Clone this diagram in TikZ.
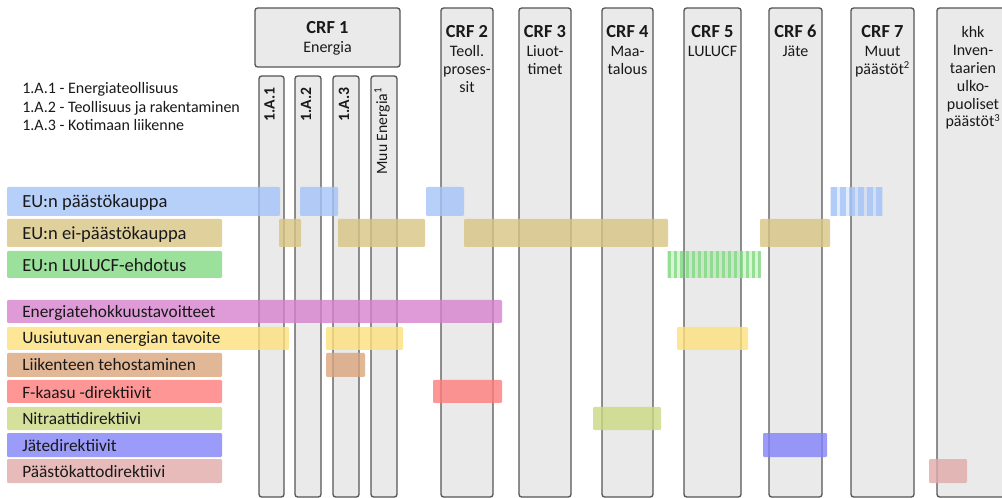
\documentclass[tikz,border=0pt]{standalone}
\usepackage{fontspec}
\setmainfont{Carlito}
\definecolor{colfill}{RGB}{234,234,234}
\definecolor{colline}{RGB}{85,85,85}
\definecolor{txt}{RGB}{25,25,25}
\definecolor{cblue}{RGB}{165,196,249}
\definecolor{ctan}{RGB}{216,196,130}
\definecolor{cgreen}{RGB}{130,218,130}
\definecolor{cpink}{RGB}{214,130,205}
\definecolor{cyellow}{RGB}{253,224,124}
\definecolor{cbrown}{RGB}{218,165,124}
\definecolor{cred}{RGB}{255,124,124}
\definecolor{colive}{RGB}{203,218,130}
\definecolor{cviolet}{RGB}{130,130,249}
\definecolor{crose}{RGB}{226,170,170}
\tikzset{
  colbox/.style={draw=colline, fill=colfill, line width=1pt, rounded corners=2pt},
  bar/.style={fill opacity=0.8, rounded corners=0.8pt},
  head/.style={font=\fontsize{13.8}{16}\selectfont\bfseries, text=txt, inner sep=0pt, anchor=base},
  sub/.style={font=\fontsize{12}{14}\selectfont, text=txt, inner sep=0pt, anchor=base},
  rot/.style={font=\fontsize{11.8}{14}\selectfont, text=txt, inner sep=0pt, rotate=90, anchor=mid east},
  leg/.style={font=\fontsize{12}{14}\selectfont, text=txt, inner sep=0pt, anchor=base west},
  lbl/.style={font=\fontsize{13.9}{16}\selectfont, text=txt, inner sep=0pt, anchor=base west},
  lbs/.style={font=\fontsize{13}{15}\selectfont, text=txt, inner sep=0pt, anchor=base west},
}
\begin{document}
\begin{tikzpicture}[x=0.75pt,y=-0.75pt]
\useasboundingbox (0,0) rectangle (1002,498);
\clip (0,0) rectangle (1002,498);
% columns
\path[colbox] (255,8) rectangle (400,67);
\path[colbox] (259,76) rectangle (284,497);
\path[colbox] (295,76) rectangle (321,497);
\path[colbox] (333,76) rectangle (359,497);
\path[colbox] (371,76) rectangle (397,497);
\path[colbox] (441,8) rectangle (493,497);
\path[colbox] (519,8) rectangle (571,497);
\path[colbox] (602,8) rectangle (653,497);
\path[colbox] (684,8) rectangle (741,497);
\path[colbox] (769,8) rectangle (822,497);
\path[colbox] (851,8) rectangle (914,497);
\path[colbox] (937,8) rectangle (1010,497);
% column texts
\node[head] (h1) at (327.5,34) {CRF 1};
\node[sub] (h1s) at (327.5,53) {Energia};
\node[rot] (a1) at (271.5,87) {\bfseries 1.A.1};
\node[rot] (a2) at (308,87) {\bfseries 1.A.2};
\node[rot] (a3) at (346,87) {\bfseries 1.A.3};
\node[rot] (a4) at (384,87) {Muu Energia\textsuperscript{1}};
\node[head] (h2) at (467,38) {CRF 2};
\node[sub] (h2a) at (467,57) {Teoll.};
\node[sub] (h2b) at (467,74.8) {proses-};
\node[sub] (h2c) at (467,92.6) {sit};
\node[head] (h3) at (545,38) {CRF 3};
\node[sub] (h3a) at (545,57) {Liuot-};
\node[sub] (h3b) at (545,74.8) {timet};
\node[head] (h4) at (627.5,38) {CRF 4};
\node[sub] (h4a) at (627.5,57) {Maa-};
\node[sub] (h4b) at (627.5,74.8) {talous};
\node[head] (h5) at (712.5,38) {CRF 5};
\node[sub] (h5a) at (712.5,57) {LULUCF};
\node[head] (h6) at (795.5,38) {CRF 6};
\node[sub] (h6a) at (795.5,57) {Jäte};
\node[head] (h7) at (882.5,38) {CRF 7};
\node[sub] (h7a) at (882.5,57) {Muut};
\node[sub] (h7b) at (882.5,74.8) {päästöt\textsuperscript{2}};
\node[sub] (k1) at (973,38) {khk};
\node[sub] (k2) at (973,55.8) {Inven-};
\node[sub] (k3) at (973,73.6) {taarien};
\node[sub] (k4) at (973,91.4) {ulko-};
\node[sub] (k5) at (973,109.2) {puoliset};
\node[sub] (k6) at (973,127) {päästöt\textsuperscript{3}};
% legend
\node[leg] (l1) at (22,94) {1.A.1 - Energiateollisuus};
\node[leg] (l2) at (22,112.5) {1.A.2 - Teollisuus ja rakentaminen};
\node[leg] (l3) at (22,131) {1.A.3 - Kotimaan liikenne};
% bars row 1
\path[bar, fill=cblue] (7,187) rectangle (280,216);
\path[bar, fill=cblue] (300,187) rectangle (338,216);
\path[bar, fill=cblue] (426,187) rectangle (464,216);
\path[fill=cblue, fill opacity=0.3] (830,187) rectangle (883,216);
\foreach \i in {0,...,5} {\path[fill=cblue, fill opacity=0.8] (831+9*\i,187) rectangle (836.5+9*\i,216);}
% row 2
\path[bar, fill=ctan] (7,219) rectangle (222,247);
\path[bar, fill=ctan] (279,219) rectangle (301,247);
\path[bar, fill=ctan] (338,219) rectangle (425,247);
\path[bar, fill=ctan] (464,219) rectangle (668,247);
\path[bar, fill=ctan] (760,219) rectangle (830,247);
% row 3
\path[bar, fill=cgreen] (7,251) rectangle (222,278);
\path[fill=cgreen, fill opacity=0.3] (667,251) rectangle (760,278);
\foreach \i in {0,...,15} {\path[fill=cgreen, fill opacity=0.8] (667.5+6*\i,251) rectangle (671+6*\i,278);}
% rows 4-10
\path[bar, fill=cpink] (7,300) rectangle (502,323);
\path[bar, fill=cyellow] (7,327) rectangle (289,350);
\path[bar, fill=cyellow] (326,327) rectangle (403,350);
\path[bar, fill=cyellow] (677,327) rectangle (748,350);
\path[bar, fill=cbrown] (7,353) rectangle (222,377);
\path[bar, fill=cbrown] (326,353) rectangle (365,377);
\path[bar, fill=cred] (7,380) rectangle (222,403);
\path[bar, fill=cred] (433,380) rectangle (502,403);
\path[bar, fill=colive] (7,407) rectangle (222,430);
\path[bar, fill=colive] (593,407) rectangle (661,430);
\path[bar, fill=cviolet] (7,433) rectangle (222,457);
\path[bar, fill=cviolet] (763,433) rectangle (827,457);
\path[bar, fill=crose] (7,459) rectangle (222,483);
\path[bar, fill=crose] (929,459) rectangle (967,483);
% bar labels
\node[lbl] (b1) at (22,208) {EU:n päästökauppa};
\node[lbl] (b2) at (22,240) {EU:n ei-päästökauppa};
\node[lbl] (b3) at (22,272) {EU:n LULUCF-ehdotus};
\node[lbs] (b4) at (22,318) {Energiatehokkuustavoitteet};
\node[lbs] (b5) at (22,344) {Uusiutuvan energian tavoite};
\node[lbs] (b6) at (22,371) {Liikenteen tehostaminen};
\node[lbs] (b7) at (22,398) {F-kaasu -direktiivit};
\node[lbs] (b8) at (22,424) {Nitraattidirektiivi};
\node[lbs] (b9) at (22,451) {Jätedirektiivit};
\node[lbs] (b10) at (22,477) {Päästökattodirektiivi};
\end{tikzpicture}
\end{document}
